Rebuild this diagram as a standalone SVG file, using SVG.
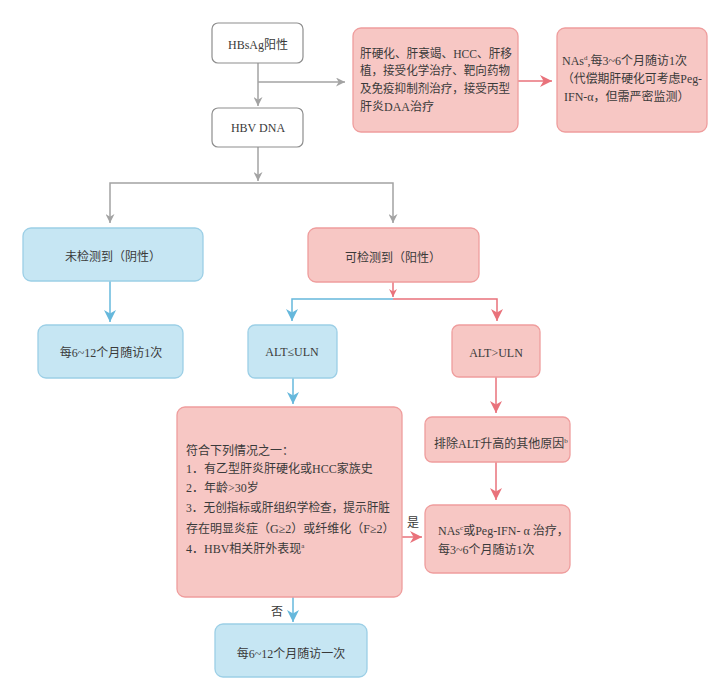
<svg xmlns="http://www.w3.org/2000/svg" width="728" height="698" viewBox="0 0 728 698">
<style>
text{font-family:"Liberation Serif","Noto Sans CJK SC",serif;font-size:12px;fill:#3a3a3a}
.c{text-anchor:middle}
.gray{fill:#fff;stroke:#8e8e8e;stroke-width:1.2}
.red{fill:#f7c7c4;stroke:#ef9d9d;stroke-width:1.3}
.blue{fill:#c6e6f3;stroke:#9ccfe6;stroke-width:1.3}
.lg{fill:none;stroke:#a3a3a3;stroke-width:1.5}
.lr{fill:none;stroke:#e9727b;stroke-width:1.5}
.lb{fill:none;stroke:#66b8dc;stroke-width:1.5}
</style>
<defs>
<marker id="ag" viewBox="0 0 10 10" refX="10" refY="5" markerWidth="9" markerHeight="9" markerUnits="userSpaceOnUse" orient="auto"><path d="M0,0 L10,5 L0,10 L3,5 z" fill="#a3a3a3"/></marker>
<marker id="ar" viewBox="0 0 10 10" refX="10" refY="5" markerWidth="12" markerHeight="12" markerUnits="userSpaceOnUse" orient="auto"><path d="M0,0 L10,5 L0,10 L3,5 z" fill="#e9727b"/></marker>
<marker id="ars" viewBox="0 0 10 10" refX="10" refY="5" markerWidth="8" markerHeight="8" markerUnits="userSpaceOnUse" orient="auto"><path d="M0,0 L10,5 L0,10 L3,5 z" fill="#e9727b"/></marker>
<marker id="ab" viewBox="0 0 10 10" refX="10" refY="5" markerWidth="12" markerHeight="12" markerUnits="userSpaceOnUse" orient="auto"><path d="M0,0 L10,5 L0,10 L3,5 z" fill="#66b8dc"/></marker>
</defs>
<rect width="728" height="698" fill="#fff"/>

<g id="connectors">
<path class="lg" d="M258,63 V106" marker-end="url(#ag)"/>
<path class="lg" d="M258,82 H345" marker-end="url(#ag)"/>
<path class="lg" d="M258,147 V181" marker-end="url(#ag)"/>
<path class="lg" d="M258,183 H110 V223" marker-end="url(#ag)"/>
<path class="lg" d="M258,183 H393 V223" marker-end="url(#ag)"/>
<path class="lr" d="M518,81 H552" marker-end="url(#ar)"/>
<path class="lr" d="M393,282 V297" marker-end="url(#ars)"/>
<path class="lr" d="M393,299 H497 V321" marker-end="url(#ar)"/>
<path class="lb" d="M393,299 H292 V321" marker-end="url(#ab)"/>
<path class="lb" d="M110,281 V322" marker-end="url(#ab)"/>
<path class="lr" d="M496,377 V413" marker-end="url(#ar)"/>
<path class="lr" d="M496,462 V500" marker-end="url(#ar)"/>
<path class="lb" d="M293,378 V404" marker-end="url(#ab)"/>
<path class="lr" d="M402,537 H422" marker-end="url(#ar)"/>
<path class="lb" d="M293,597 V622" marker-end="url(#ab)"/>
<text x="413" y="527" class="c">是</text>
<text x="277" y="616" class="c">否</text>
</g>

<g id="n_hbsag">
<rect class="gray" x="212" y="23" width="91" height="40" rx="6"/>
<text x="258" y="49" class="c">HBsAg阳性</text>
</g>
<g id="n_hbvdna">
<rect class="gray" x="212" y="108" width="91" height="39" rx="6"/>
<text x="258" y="132" class="c">HBV DNA</text>
</g>
<g id="n_special">
<rect class="red" x="353" y="28" width="165" height="104" rx="8"/>
<text x="360" y="57.5" textLength="152" lengthAdjust="spacingAndGlyphs">肝硬化、肝衰竭、HCC、肝移</text>
<text x="360" y="75" textLength="150" lengthAdjust="spacingAndGlyphs">植，接受化学治疗、靶向药物</text>
<text x="360" y="93" textLength="150" lengthAdjust="spacingAndGlyphs">及免疫抑制剂治疗，接受丙型</text>
<text x="360" y="111">肝炎DAA治疗</text>
</g>
<g id="n_nas1">
<rect class="red" x="557" y="28" width="150" height="104" rx="8"/>
<text x="562" y="64.5">NAs<tspan font-size="7" dy="-5">d</tspan><tspan dy="5">,每3~6个月随访1次</tspan></text>
<text x="562" y="83" textLength="140" lengthAdjust="spacingAndGlyphs">（代偿期肝硬化可考虑Peg-</text>
<text x="564" y="101">IFN-α，但需严密监测）</text>
</g>
<g id="n_neg">
<rect class="blue" x="23" y="228" width="180" height="53" rx="8"/>
<text x="113" y="260.5" class="c">未检测到（阴性）</text>
</g>
<g id="n_pos">
<rect class="red" x="308" y="228" width="171" height="54" rx="8"/>
<text x="393" y="261.5" class="c">可检测到（阳性）</text>
</g>
<g id="n_follow1">
<rect class="blue" x="38" y="325" width="145" height="53" rx="8"/>
<text x="111" y="356.5" class="c">每6~12个月随访1次</text>
</g>
<g id="n_altle">
<rect class="blue" x="248" y="325" width="89" height="53" rx="7"/>
<text x="292" y="355.5" class="c">ALT≤ULN</text>
</g>
<g id="n_altgt">
<rect class="red" x="452" y="325" width="88" height="52" rx="7"/>
<text x="496" y="357" class="c">ALT&gt;ULN</text>
</g>
<g id="n_exclude">
<rect class="red" x="425" y="417" width="145" height="45" rx="7"/>
<text x="434" y="447.5">排除ALT升高的其他原因<tspan font-size="7" dy="-5">b</tspan></text>
</g>
<g id="n_criteria">
<rect class="red" x="177" y="407" width="225" height="190" rx="8"/>
<text x="186" y="454.5">符合下列情况之一：</text>
<text x="186" y="472.5">1．有乙型肝炎肝硬化或HCC家族史</text>
<text x="186" y="491.5">2．年龄&gt;30岁</text>
<text x="186" y="511.5" textLength="204" lengthAdjust="spacingAndGlyphs">3．无创指标或肝组织学检查，提示肝脏</text>
<text x="186" y="532.5">存在明显炎症（G≥2）或纤维化（F≥2）</text>
<text x="186" y="552.5">4．HBV相关肝外表现<tspan font-size="7" dy="-5">a</tspan></text>
</g>
<g id="n_nas2">
<rect class="red" x="425" y="505" width="145" height="68" rx="8"/>
<text x="438" y="534.5">NAs<tspan font-size="7" dy="-5">c</tspan><tspan dy="5">或Peg-IFN- α 治疗，</tspan></text>
<text x="438" y="553.5">每3~6个月随访1次</text>
</g>
<g id="n_follow2">
<rect class="blue" x="215" y="624" width="152" height="53" rx="8"/>
<text x="291" y="657.5" class="c">每6~12个月随访一次</text>
</g>
</svg>
